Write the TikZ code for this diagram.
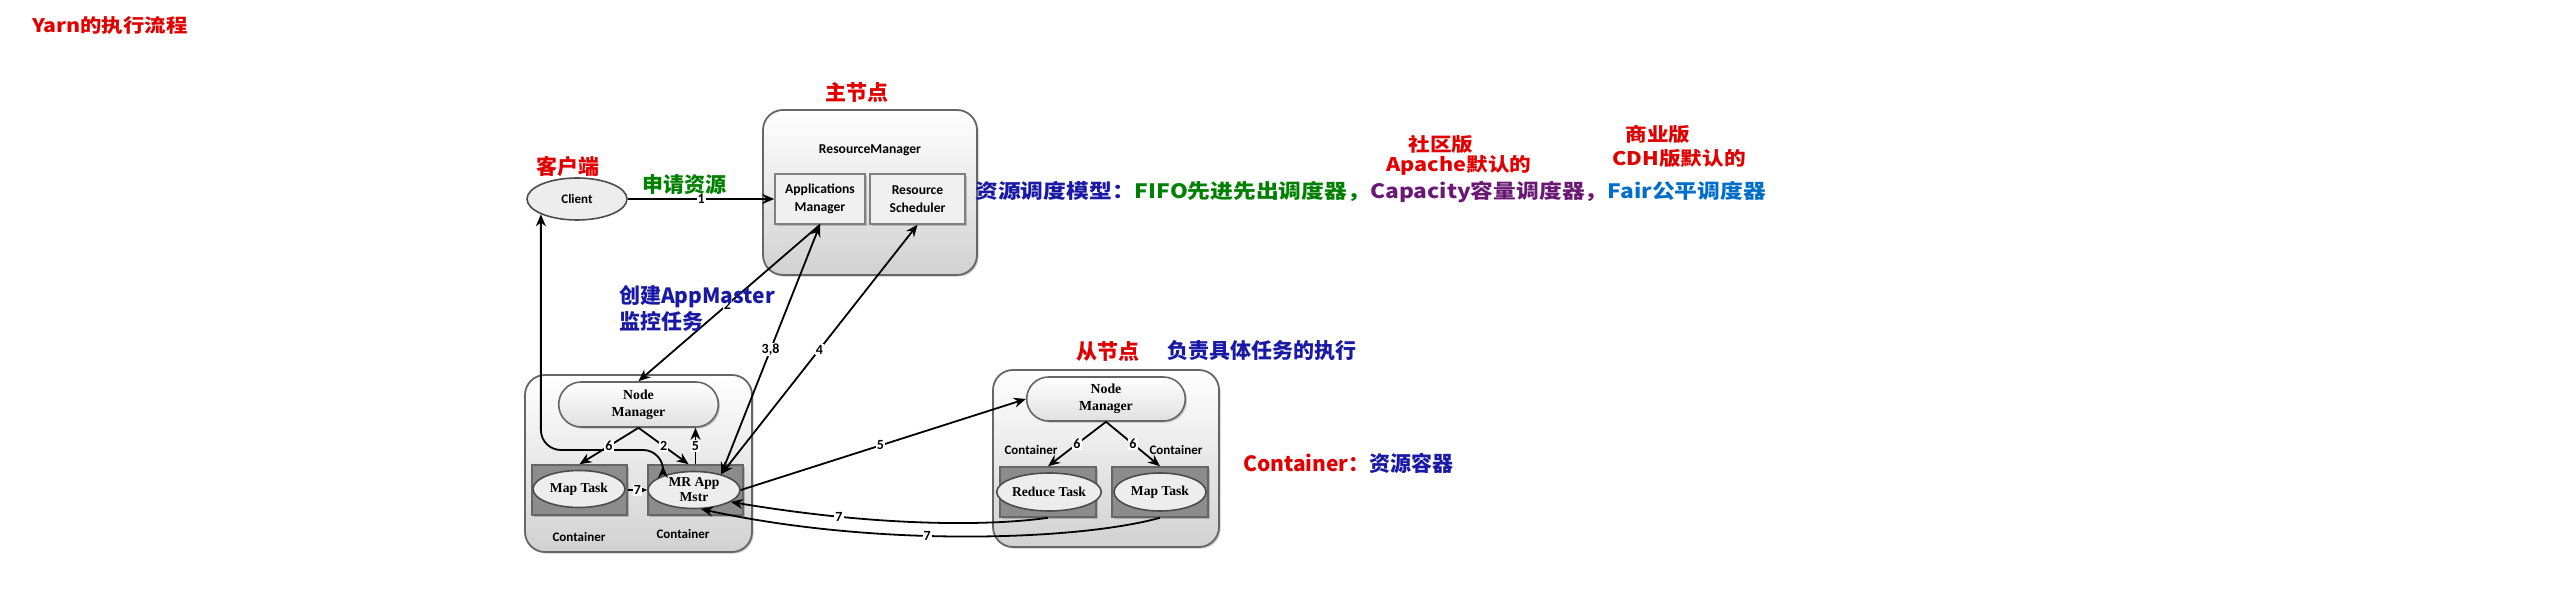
\documentclass[tikz,border=0pt]{standalone}
\usepackage{fontspec}
\setmainfont{Liberation Serif}
\newfontfamily\calfont{Carlito}
\newfontfamily\cjk{Noto Sans CJK SC}
\newfontfamily\cjkw{Noto Sans CJK SC}[FakeStretch=1.15]
\usetikzlibrary{shapes.geometric,shapes.misc,arrows.meta,shadows,calc}
\definecolor{myred}{RGB}{225,0,0}
\definecolor{mygreen}{RGB}{0,128,0}
\definecolor{myblue}{RGB}{25,25,165}
\definecolor{mypurple}{RGB}{105,25,115}
\definecolor{myblue2}{RGB}{0,110,200}
\begin{document}
\begin{tikzpicture}[x=0.5pt,y=-0.5pt,
  shad/.style={drop shadow={shadow xshift=0.8pt,shadow yshift=-0.8pt,opacity=0.35,fill=black!60}},
  outerbox/.style={draw=black!60,line width=0.9pt,rounded corners=10pt,top color=white,bottom color=black!18,shad},
  innerbox/.style={draw=black!50,line width=0.7pt,fill=black!6,shad,align=center,font=\calfont\bfseries\fontsize{6.8}{9}\selectfont},
  pill/.style={rounded rectangle,draw=black!60,line width=0.8pt,top color=white,bottom color=black!12,shad,align=center,font=\bfseries\fontsize{6.9}{8.5}\selectfont},
  cont/.style={draw=black!60,line width=0.8pt,fill=black!45,shad},
  ell/.style={ellipse,draw=black!70,line width=0.8pt,fill=black!7,inner sep=0pt,align=center,font=\bfseries\fontsize{6.8}{7.5}\selectfont},
  sansb/.style={font=\calfont\bfseries\fontsize{6.5}{7}\selectfont},
  arr/.style={line width=0.9pt,-{Stealth[length=6pt,width=5pt]}},
  dbl/.style={line width=0.9pt,{Stealth[length=6pt,width=5pt]}-{Stealth[length=6pt,width=5pt]}},
  lab/.style={font=\calfont\bfseries\fontsize{7}{7.5}\selectfont,fill=white,inner sep=0.5pt},
  zh/.style={font=\cjk\bfseries\fontsize{10.5}{13}\selectfont},
  zhc/.style={font=\cjkw\bfseries\fontsize{9.4}{10}\selectfont,text=myred}
]
\useasboundingbox (0,0) rectangle (2560,603);

% ResourceManager
\node[outerbox,minimum width=107pt,minimum height=82.5pt] (rm) at (870,192.5) {};
\node[font=\calfont\bfseries\fontsize{6.8}{8}\selectfont] (rmt) at (870,150) {ResourceManager};
\node[innerbox,minimum width=45pt,minimum height=25pt] (am) at (820,199) {Applications\\Manager};
\node[innerbox,minimum width=47.5pt,minimum height=25pt] (rs) at (917.5,199) {Resource\\Scheduler};

% Client
\node[ell,font=\calfont\bfseries\fontsize{6.5}{7}\selectfont,minimum width=50pt,minimum height=21pt] (client) at (577,199) {Client};

% Left node
\node[outerbox,minimum width=113.5pt,minimum height=88.5pt] (n1) at (638.5,463.5) {};
\node[pill,minimum width=86.5pt,minimum height=22.5pt] (nm1) at (638.5,404.5) {Node\\Manager};
\node[cont,minimum width=47.5pt,minimum height=25pt] (mt1box) at (579.5,490) {};
\node[ell,minimum width=46pt,minimum height=18.5pt] (mt1) at (579,489) {Map Task};
\node[cont,minimum width=47.5pt,minimum height=25pt] (mrbox) at (695.5,490) {};
\node[ell,minimum width=46pt,minimum height=18.5pt] (mr) at (694,490) {MR App\\Mstr};
\node[sansb] (c1) at (579,537) {Container};
\node[sansb] (c2) at (683,534) {Container};

% Right node
\node[outerbox,minimum width=113pt,minimum height=88.5pt] (n2) at (1106,458.5) {};
\node[pill,minimum width=86pt,minimum height=22pt] (nm2) at (1106,399) {Node\\Manager};
\node[cont,minimum width=48pt,minimum height=25pt] (redbox) at (1048,492) {};
\node[ell,minimum width=46pt,minimum height=19pt] (red) at (1049,492) {Reduce Task};
\node[cont,minimum width=48pt,minimum height=25pt] (mt2box) at (1160,492) {};
\node[ell,minimum width=46pt,minimum height=19pt] (mt2) at (1160,492) {Map Task};
\node[sansb] (c3) at (1031,450) {Container};
\node[sansb] (c4) at (1176,450) {Container};

% connectors
\draw[arr] (client.east) -- node[lab] {1} (am.west);
\draw[arr] (am.south) -- node[lab,pos=0.51] {2} (nm1.north);
\draw[dbl] (mr.30) -- node[lab] {3,8} (am.south);
\draw[dbl] (mr.30) -- node[lab] {4} (rs.south);
\coordinate (cbend) at (600,450);
\coordinate (mrin) at (663,466);
\draw[dbl,rounded corners=10pt] (client.203) |- (cbend) -| (mrin);
\draw[arr] (nm1.south) -- node[lab] {6} (mt1box.north);
\draw[arr] (nm1.south) -- node[lab] {2} (mrbox.105);
\draw[arr] (mrbox.north) -- node[lab] {5} (mrbox.north |- nm1.south);
\draw[arr] (mt1box.east) -- node[lab] {7} (mrbox.west);
\draw[arr] (mr.east) -- node[lab,pos=0.49] {5} (nm2.west);
\draw[arr] (nm2.south) -- node[lab] {6} (redbox.north);
\draw[arr] (nm2.south) -- node[lab] {6} (mt2box.north);
\draw[arr] (redbox.south) .. controls (990,526) and (880,527) .. node[lab,pos=0.74] {7} (mr.-18);
\draw[arr] (mt2box.south) .. controls (1080,540) and (880,548) .. node[lab,pos=0.58] {7} (mr.-70);

% annotations
\node[font=\cjkw\bfseries\fontsize{9.3}{10}\selectfont,text=myred] (title) at (110,25) {Yarn的执行流程};
\node[zh,text=myred] (zhu) at (857,92) {主节点};
\node[zh,text=myred] (kehu) at (568,166) {客户端};
\node[zh,text=mygreen] (sq) at (684,185) {申请资源};
\node[zh,text=myblue,anchor=west,align=left] (cj) at (612,308) {创建AppMaster\\监控任务};
\node[zh,text=myred] (cjd) at (1108,351) {从节点};
\node[zh,text=myblue] (fz) at (1262,351) {负责具体任务的执行};
\node[zh,anchor=west] (cn) at (1236,463) {\textcolor{myred}{Container：}\textcolor{myblue}{资源容器}};
\node[font=\cjkw\bfseries\fontsize{9.9}{10}\selectfont,anchor=west,inner sep=0pt] (model) at (975,192) {\textcolor{myblue}{资源调度模型：}\textcolor{mygreen}{FIFO先进先出调度器，}\textcolor{mypurple}{Capacity容量调度器，}\textcolor{myblue2}{Fair公平调度器}};
\node[zhc] (sq1) at (1441,144) {社区版};
\node[zhc] (sq2) at (1459,165) {Apache默认的};
\node[zhc] (sy1) at (1658,134) {商业版};
\node[zhc] (sy2) at (1679,158) {CDH版默认的};
\end{tikzpicture}
\end{document}
